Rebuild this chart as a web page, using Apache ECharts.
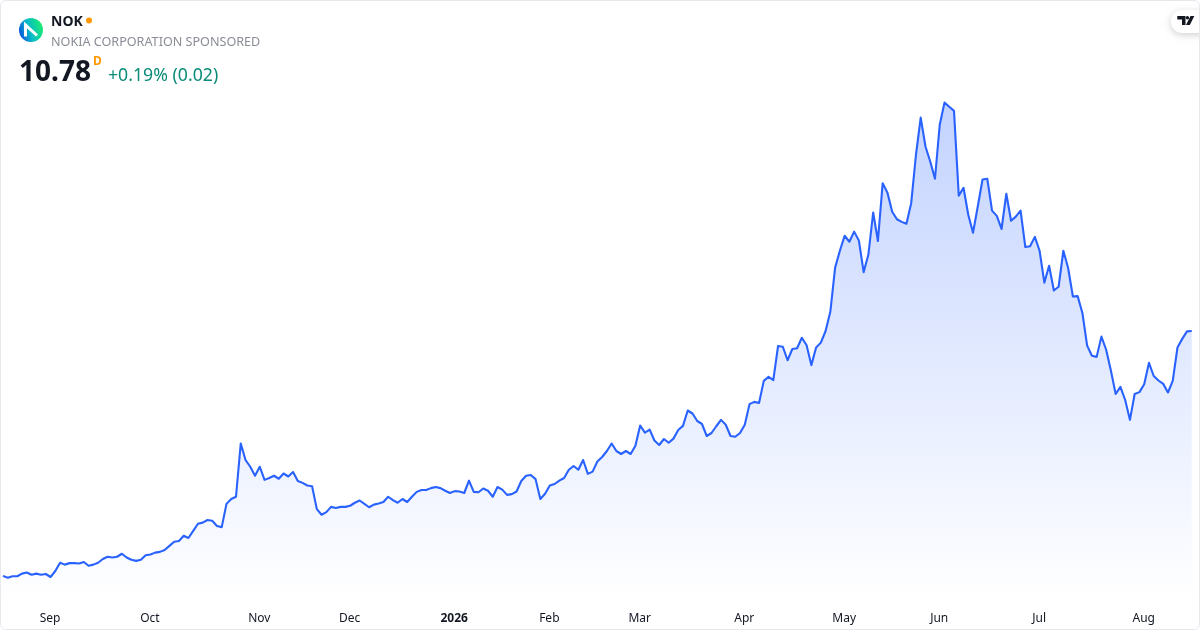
<!DOCTYPE html>
<html>
<head>
<meta charset="utf-8">
<style>
html,body{margin:0;padding:0;background:#fff;}
#wrap{position:relative;width:1200px;height:630px;overflow:hidden;}
#main{position:absolute;left:0;top:0;width:1200px;height:630px;}
#frame{position:absolute;left:0;top:0;width:1198px;height:628px;border:1px solid #e6e8ee;border-radius:6px;pointer-events:none;}
</style>
<script src="https://cdn.jsdelivr.net/npm/echarts@6/dist/echarts.min.js"></script>
</head>
<body>
<div id="wrap"><div id="main"></div><div id="frame"></div></div>
<script>
const symbol = 'NOK';
const companyName = 'NOKIA CORPORATION SPONSORED';
const lastPrice = '10.78';
const interval_ = 'D';
const changeText = '+0.19% (0.02)';
const tickIndex = [10,31,54,73,95,115,134,156,177,197,218,240];
const tickLabels = ['Sep','Oct','Nov','Dec','2026','Feb','Mar','Apr','May','Jun','Jul','Aug'];
const prices = [
4.25,4.20,4.24,4.24,4.31,4.34,4.28,4.31,4.28,4.30,
4.22,4.38,4.60,4.55,4.59,4.59,4.58,4.62,4.52,4.55,
4.60,4.70,4.76,4.74,4.76,4.84,4.74,4.68,4.65,4.68,
4.80,4.82,4.87,4.89,4.94,5.05,5.16,5.18,5.32,5.26,
5.45,5.64,5.67,5.74,5.72,5.58,5.55,6.17,6.30,6.36,
7.78,7.34,7.16,6.92,7.16,6.81,6.86,6.92,6.84,6.98,
6.90,7.02,6.78,6.73,6.66,6.64,6.03,5.88,5.95,6.09,
6.06,6.09,6.09,6.12,6.20,6.26,6.17,6.08,6.15,6.18,
6.22,6.36,6.27,6.20,
6.30,6.22,6.36,6.49,6.54,6.54,6.59,6.62,6.59,6.52,
6.46,6.51,6.50,6.46,6.79,6.49,6.48,6.58,6.52,6.36,
6.62,6.55,6.41,6.43,6.50,6.78,6.92,6.94,6.83,6.30,
6.44,6.66,6.70,6.79,6.86,7.08,7.18,7.08,7.34,6.97,
7.03,7.30,7.42,7.58,7.78,7.58,7.50,7.58,7.50,7.72,
8.26,8.07,8.15,7.86,7.74,7.90,7.80,7.91,8.14,8.25,
8.66,8.58,8.38,8.30,7.98,8.06,8.24,8.41,8.28,7.98,
7.96,8.06,8.28,8.83,8.89,8.86,9.45,
9.56,9.47,10.38,10.36,10.00,10.30,10.32,10.60,10.40,9.87,
10.34,10.47,10.78,11.30,12.47,12.92,13.32,13.16,13.43,13.19,
12.35,12.82,13.94,13.18,14.72,14.47,13.96,13.76,13.69,13.64,
14.19,15.48,16.47,15.70,15.30,14.84,16.28,16.87,16.76,16.65,
14.39,
14.60,13.88,13.40,14.10,14.82,14.84,13.99,13.85,13.50,14.44,
13.72,13.83,13.99,13.02,13.04,13.29,12.92,12.07,12.52,11.86,
11.96,12.92,12.46,11.70,11.71,11.26,10.39,10.12,10.09,10.63,
10.28,9.72,9.10,9.29,8.94,8.41,9.10,9.15,9.36,9.93,
9.58,9.46,9.37,9.14,9.45,10.34,10.57,10.77,10.78
];

const categories = prices.map((_, i) => {
  const k = tickIndex.indexOf(i);
  return k >= 0 ? tickLabels[k] : '';
});

const chart = echarts.init(document.getElementById('main'), null, {renderer:'canvas'});
const FONT = '"Noto Sans","Open Sans",sans-serif';
chart.setOption({
  animation:false,
  backgroundColor:'#ffffff',
  grid:{left:3,right:8.25,top:90.25,bottom:29.75,containLabel:false},
  xAxis:{
    type:'category',
    data:categories,
    boundaryGap:false,
    axisLine:{show:false},
    axisTick:{show:false},
    splitLine:{show:false},
    axisLabel:{
      interval:(i)=>tickIndex.indexOf(i)>=0,
      hideOverlap:false,
      margin:12,
      padding:[0,1,0,0],
      fontFamily:FONT,
      fontSize:12,
      color:'#131722',
      formatter:(v)=>v==='2026'?'{b|'+v+'}':v,
      rich:{b:{fontWeight:'bold',fontSize:12,color:'#131722',fontFamily:FONT}}
    }
  },
  yAxis:{type:'value',min:3.6,max:17.2,show:false,splitLine:{show:false}},
  series:[{
    type:'line',
    data:prices,
    symbol:'none',
    smooth:false,
    lineStyle:{color:'#2962ff',width:2.1,join:'round'},
    areaStyle:{opacity:1,origin:'start',color:new echarts.graphic.LinearGradient(0,0,0,1,[
      {offset:0,color:'rgba(41,98,255,0.28)'},
      {offset:1,color:'rgba(41,98,255,0)'}
    ])}
  }],
  graphic:[
    {type:'circle',shape:{cx:31,cy:30,r:12},style:{fill:new echarts.graphic.LinearGradient(0,0.85,1,0.55,[
      {offset:0,color:'#0a45e0'},{offset:0.5,color:'#06bcc8'},{offset:1,color:'#1ce878'}
    ])}},
    {type:'polyline',shape:{points:[[25.5,36.5],[25.5,25],[37,35.5]]},style:{stroke:'#ffffff',lineWidth:3,fill:null}},
    {type:'text',x:51,y:15,style:{text:symbol,font:'bold 14px '+FONT,fill:'#131722'}},
    {type:'circle',shape:{cx:89,cy:20.5,r:3},style:{fill:'#ff9800'}},
    {type:'text',x:51,y:36,style:{text:companyName,font:'12.6px '+FONT,fill:'#8a8d96'}},
    {type:'text',x:19,y:59,style:{text:lastPrice,font:'bold 28px '+FONT,fill:'#131722'}},
    {type:'text',x:93,y:56,style:{text:interval_,font:'bold 12px '+FONT,fill:'#ff9800'}},
    {type:'text',x:108,y:67,style:{text:changeText,font:'17.7px '+FONT,fill:'#0a8c78'}},
    {type:'rect',shape:{x:1171,y:10,width:40,height:23,r:11},style:{fill:'#ffffff',shadowBlur:7,shadowColor:'rgba(0,0,0,0.18)',shadowOffsetY:2}},
    {type:'polygon',shape:{points:[[1177.3,16],[1185.5,16],[1185.5,25],[1182,25],[1182,19.5],[1177.3,19.5]]},style:{fill:'#131722'}},
    {type:'circle',shape:{cx:1187.4,cy:17.8,r:1.7},style:{fill:'#131722'}},
    {type:'polygon',shape:{points:[[1190.5,16],[1194.3,16],[1189.8,25],[1186,25]]},style:{fill:'#131722'}}
  ]
});
</script>
</body>
</html>
